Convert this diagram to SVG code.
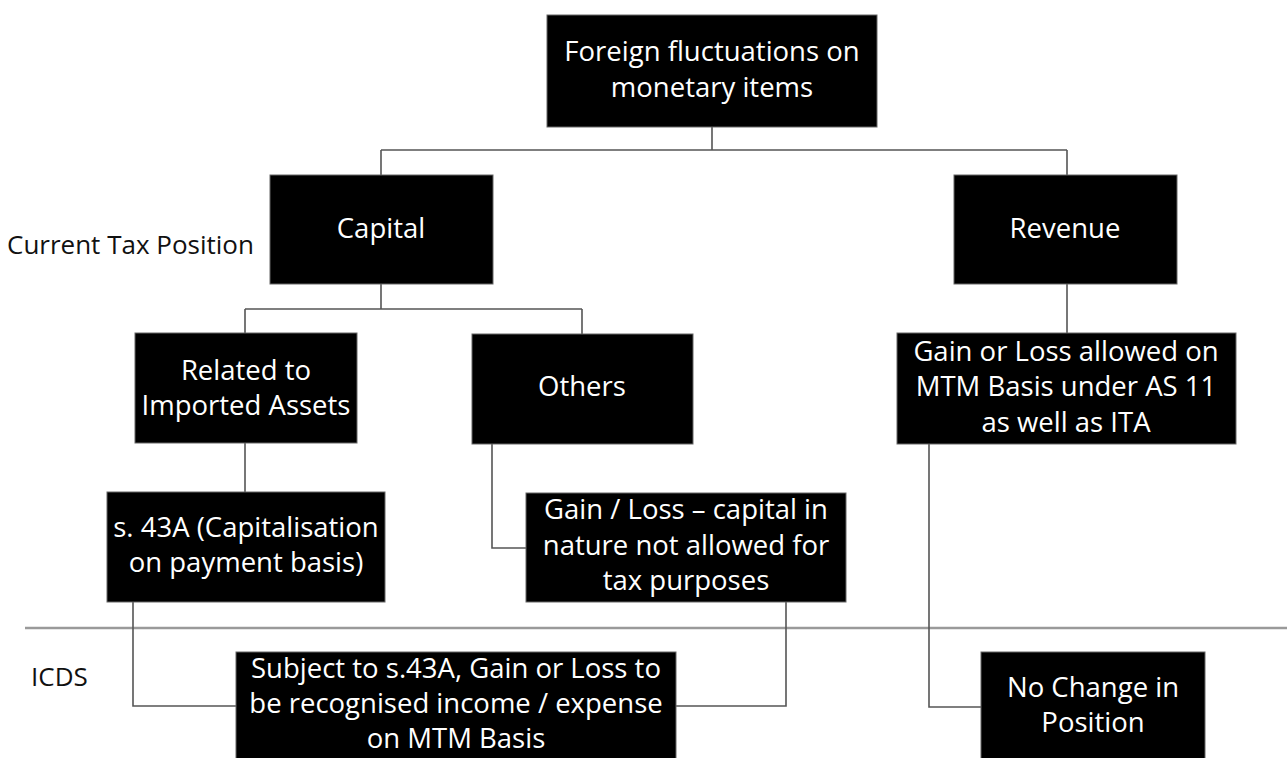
<svg xmlns="http://www.w3.org/2000/svg" width="1287" height="758" viewBox="0 0 1287 758">
<style>
.box{fill:#000;stroke:#666;stroke-width:1}
.t{font-family:"Open Sans","Noto Sans","DejaVu Sans",sans-serif;font-size:27.5px;fill:#fff;text-anchor:middle}
.lbl{font-family:"Open Sans","Noto Sans","DejaVu Sans",sans-serif;font-size:26px;fill:#111}
.c{fill:none;stroke:#555;stroke-width:1.6}
.div{stroke:#9a9a9a;stroke-width:2.5}
</style>
<rect width="1287" height="758" fill="#fff"/>
<g id="divider"><line class="div" x1="25" y1="628" x2="1287" y2="628"/></g>
<g id="connectors">
<path class="c" d="M712 127V150M381 150H1067M381 150V175M1067 150V175"/>
<path class="c" d="M381 284V309M245 309H582M245 309V333M582 309V334"/>
<path class="c" d="M1067 284V333"/>
<path class="c" d="M245 443V492"/>
<path class="c" d="M492 444V548H526"/>
<path class="c" d="M133 602V706H236"/>
<path class="c" d="M786 602V706H676"/>
<path class="c" d="M929 444V707H982"/>
</g>
<g id="label-current"><text class="lbl" x="7" y="254">Current Tax Position</text></g>
<g id="label-icds"><text class="lbl" x="31" y="686">ICDS</text></g>
<g id="n-root"><rect class="box" x="547" y="15" width="330" height="112"/>
<text class="t" x="712" y="61">Foreign fluctuations on</text><text class="t" x="712" y="97">monetary items</text></g>
<g id="n-capital"><rect class="box" x="270" y="175" width="223" height="109"/>
<text class="t" x="381" y="238">Capital</text></g>
<g id="n-revenue"><rect class="box" x="954" y="175" width="223" height="109"/>
<text class="t" x="1065" y="238">Revenue</text></g>
<g id="n-related"><rect class="box" x="135" y="333" width="222" height="110"/>
<text class="t" x="246" y="380">Related to</text><text class="t" x="246" y="415">Imported Assets</text></g>
<g id="n-others"><rect class="box" x="472" y="334" width="221" height="110"/>
<text class="t" x="582" y="396">Others</text></g>
<g id="n-gainallowed"><rect class="box" x="897" y="333" width="339" height="111"/>
<text class="t" x="1066" y="361">Gain or Loss allowed on</text><text class="t" x="1066" y="396">MTM Basis under AS 11</text><text class="t" x="1066" y="432">as well as ITA</text></g>
<g id="n-43a"><rect class="box" x="107" y="492" width="278" height="110"/>
<text class="t" x="246" y="537">s. 43A (Capitalisation</text><text class="t" x="246" y="572">on payment basis)</text></g>
<g id="n-gaincapital"><rect class="box" x="526" y="493" width="320" height="109"/>
<text class="t" x="686" y="519">Gain / Loss – capital in</text><text class="t" x="686" y="555">nature not allowed for</text><text class="t" x="686" y="590">tax purposes</text></g>
<g id="n-subject"><rect class="box" x="236" y="652" width="440" height="120"/>
<text class="t" x="456" y="678">Subject to s.43A, Gain or Loss to</text><text class="t" x="456" y="713">be recognised income / expense</text><text class="t" x="456" y="748">on MTM Basis</text></g>
<g id="n-nochange"><rect class="box" x="981" y="652" width="224" height="120"/>
<text class="t" x="1093" y="697">No Change in</text><text class="t" x="1093" y="732">Position</text></g>
</svg>
